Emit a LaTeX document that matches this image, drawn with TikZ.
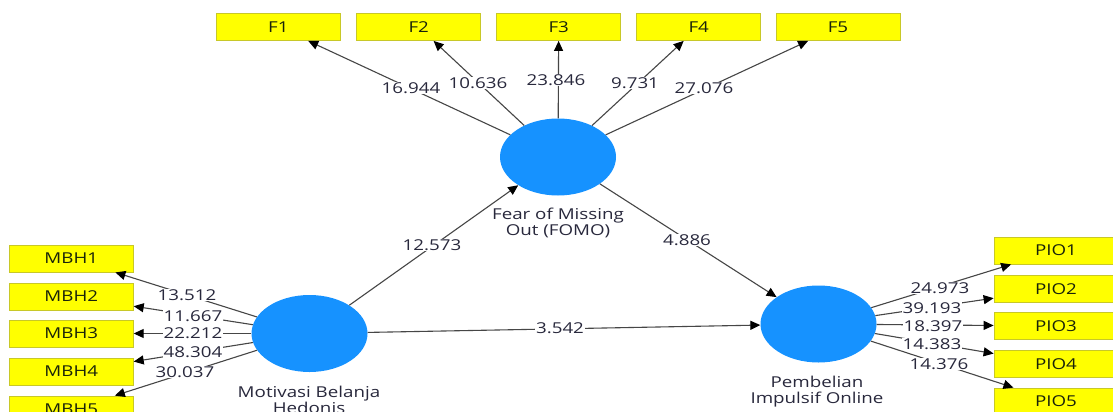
\documentclass[tikz,border=0pt]{standalone}
\usepackage{fontspec}
\newfontfamily\uifont[FakeStretch=1.25]{Open Sans}
\usetikzlibrary{arrows.meta,shapes.geometric}
\definecolor{lvblue}{RGB}{22,146,255}
\definecolor{indfill}{RGB}{255,255,0}
\definecolor{indborder}{RGB}{200,200,40}
\definecolor{edgegray}{RGB}{70,70,70}
\definecolor{txtcol}{RGB}{40,40,60}
\definecolor{boxtxt}{RGB}{25,35,10}
\begin{document}
\begin{tikzpicture}[x=1pt,y=-1pt,
  latent/.style={ellipse, fill=lvblue, draw=none, minimum width=116pt, minimum height=77pt, inner sep=0pt},
  indicator/.style={rectangle, fill=indfill, draw=indborder, line width=0.8pt,
    minimum width=124pt, minimum height=27pt, inner sep=0pt,
    font=\uifont\fontsize{15}{16}\selectfont, text=boxtxt},
  pathline/.style={draw=edgegray, line width=1.1pt, -{Triangle[length=10pt,width=9pt,color=black]}},
  coef/.style={fill=white, inner sep=0.6pt, font=\uifont\fontsize{15}{16}\selectfont, text=txtcol},
  lvlabel/.style={align=center, inner sep=0pt, font=\uifont\fontsize{15}{16}\selectfont, text=txtcol}
]
\useasboundingbox (0,0) rectangle (1113,412);
\fill[white] (0,0) rectangle (1113,412);

% latent variables
\node[latent] (fomo) at (558,157) {};
\node[latent] (mbh) at (309.5,333.5) {};
\node[latent] (pio) at (818.5,324) {};

% indicators FOMO
\node[indicator] (F1) at (278.3,27) {F1};
\node[indicator] (F2) at (418.7,27) {F2};
\node[indicator] (F3) at (558.7,27) {F3};
\node[indicator] (F4) at (698.7,27) {F4};
\node[indicator] (F5) at (838,27) {F5};

% indicators MBH
\node[indicator] (MBH1) at (71.3,258.5) {MBH1};
\node[indicator] (MBH2) at (71.3,296.5) {MBH2};
\node[indicator] (MBH3) at (71.3,333.5) {MBH3};
\node[indicator] (MBH4) at (71.3,371.5) {MBH4};
\node[indicator] (MBH5) at (71.3,409.5) {MBH5};

% indicators PIO
\node[indicator] (PIO1) at (1056,250.5) {PIO1};
\node[indicator] (PIO2) at (1056,289) {PIO2};
\node[indicator] (PIO3) at (1056,326) {PIO3};
\node[indicator] (PIO4) at (1056,364) {PIO4};
\node[indicator] (PIO5) at (1056,401.5) {PIO5};

% connectors
\foreach \t in {F1,F2,F3,F4,F5} {\draw[pathline] (fomo) -- (\t);}
\foreach \t in {MBH1,MBH2,MBH3,MBH4,MBH5} {\draw[pathline] (mbh) -- (\t);}
\foreach \t in {PIO1,PIO2,PIO3,PIO4,PIO5} {\draw[pathline] (pio) -- (\t);}
\draw[pathline] (mbh) -- (fomo);
\draw[pathline] (fomo) -- (pio);
\draw[pathline] (mbh) -- (pio);

% coefficients
\node[coef] (cF1) at (411,88) {16.944};
\node[coef] (cF2) at (478,83) {10.636};
\node[coef] (cF3) at (556,80) {23.846};
\node[coef] (cF4) at (635,83) {9.731};
\node[coef] (cF5) at (704,88) {27.076};

\node[coef] (cM1) at (187,295) {13.512};
\node[coef] (cM2) at (193,316) {11.667};
\node[coef] (cM3) at (193,333) {22.212};
\node[coef] (cM4) at (193,352) {48.304};
\node[coef] (cM5) at (185,372) {30.037};

\node[coef] (cP1) at (940,288) {24.973};
\node[coef] (cP2) at (932,308) {39.193};
\node[coef] (cP3) at (933,326) {18.397};
\node[coef] (cP4) at (932,344) {14.383};
\node[coef] (cP5) at (939,364) {14.376};

\node[coef] (cMF) at (432,245) {12.573};
\node[coef] (cFP) at (687,240) {4.886};
\node[coef] (cMP) at (560,328) {3.542};

% latent labels
\node[lvlabel] (lfomo) at (558,222.5) {Fear of Missing\\Out (FOMO)};
\node[lvlabel] (lmbh) at (309,399.5) {Motivasi Belanja\\Hedonis};
\node[lvlabel] (lpio) at (817,391.5) {Pembelian\\Impulsif Online};
\end{tikzpicture}
\end{document}
